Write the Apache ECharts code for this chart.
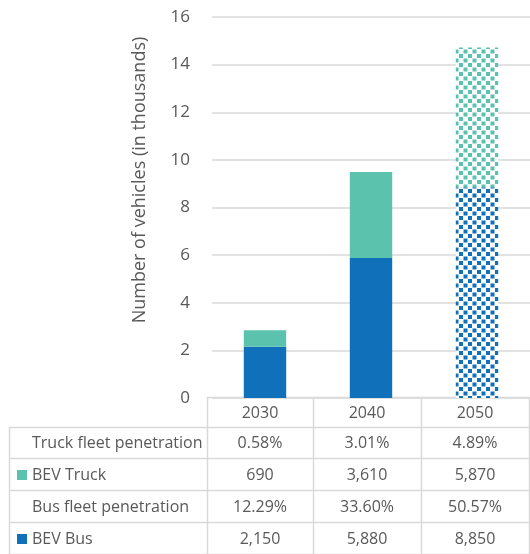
<!DOCTYPE html>
<html><head><meta charset="utf-8">
<script src="https://cdn.jsdelivr.net/npm/echarts@6/dist/echarts.min.js"></script>
<style>html,body{margin:0;padding:0;background:#fff}#c{width:530px;height:554px}</style>
</head><body><div id="c"></div><script>
// ---- data ----
const years = ['2030', '2040', '2050'];
const busValues = [2.15, 5.88, 8.85];      // thousands
const truckValues = [0.69, 3.61, 5.87];    // thousands
const truckPenetration = ['0.58%', '3.01%', '4.89%'];
const truckLabels = ['690', '3,610', '5,870'];
const busPenetration = ['12.29%', '33.60%', '50.57%'];
const busLabels = ['2,150', '5,880', '8,850'];
const projectedIndex = 2; // patterned bar
const yAxisTitle = 'Number of vehicles (in thousands)';

// ---- style ----
const busColor = '#1071BA';
const truckColor = '#5AC2AD';
const textColor = '#595959';
const lineColor = '#D9D9D9';
const FONT = 'Open Sans';

function makePattern(color) {
  const c = document.createElement('canvas');
  c.width = 9; c.height = 9;
  const ctx = c.getContext('2d');
  ctx.fillStyle = '#fff'; ctx.fillRect(0, 0, 9, 9);
  ctx.fillStyle = color;
  ctx.fillRect(0, 0, 4, 4);
  ctx.fillRect(4.5, 4.5, 4, 4);
  return { image: c, repeat: 'repeat' };
}

const chart = echarts.init(document.getElementById('c'), null, { renderer: 'canvas' });

const tableRows = [
  { label: 'Truck fleet penetration', values: truckPenetration },
  { label: 'BEV Truck', swatch: truckColor, values: truckLabels },
  { label: 'Bus fleet penetration', values: busPenetration },
  { label: 'BEV Bus', swatch: busColor, values: busLabels }
];

// table layout
const colX = [207, 313, 421, 529];
const tableLeft = 9;
const rowY = [397, 427, 458, 490, 522, 554];

const g = [];
function hline(x1, x2, y) { g.push({ type: 'line', silent: true, shape: { x1, y1: y + 0.5, x2, y2: y + 0.5 }, style: { stroke: lineColor, lineWidth: 1.5 } }); }
function vline(x, y1, y2) { g.push({ type: 'line', silent: true, shape: { x1: x + 0.5, y1, x2: x + 0.5, y2 }, style: { stroke: lineColor, lineWidth: 1.5 } }); }
hline(colX[0], colX[3], rowY[0]);
for (let r = 1; r < rowY.length; r++) hline(tableLeft, colX[3], rowY[r]);
vline(tableLeft, rowY[1], rowY[5]);
colX.forEach(x => vline(x, rowY[0], rowY[5]));
function txt(s, x, y, align) {
  g.push({ type: 'text', silent: true, x, y, style: { text: s, fill: textColor, font: '16px "' + FONT + '"', align: align || 'center', verticalAlign: 'middle' } });
}
years.forEach((yr, i) => txt(yr, (colX[i] + colX[i + 1]) / 2, (rowY[0] + rowY[1]) / 2 + 1));
tableRows.forEach((row, r) => {
  const cy = (rowY[r + 1] + rowY[r + 2]) / 2 + 1;
  if (row.swatch) g.push({ type: 'rect', silent: true, shape: { x: 17, y: cy - 5, width: 10, height: 10 }, style: { fill: row.swatch } });
  txt(row.label, 32, cy, 'left');
  row.values.forEach((v, i) => txt(v, (colX[i] + colX[i + 1]) / 2, cy));
});
g.push({ type: 'text', silent: true, x: 140, y: 180, rotation: Math.PI / 2,
  style: { text: yAxisTitle, fill: textColor, font: '18px "' + FONT + '"', align: 'center', verticalAlign: 'middle' } });

const option = {
  animation: false,
  backgroundColor: '#fff',
  grid: { left: 212, right: -4, top: 17, bottom: 156, containLabel: false },
  xAxis: {
    type: 'category', data: years,
    axisLine: { show: false }, axisTick: { show: false }, axisLabel: { show: false }
  },
  yAxis: {
    type: 'value', min: 0, max: 16, interval: 2,
    axisLine: { show: false }, axisTick: { show: false },
    axisLabel: { color: textColor, fontSize: 17, fontFamily: FONT, margin: 22 },
    splitLine: { lineStyle: { color: lineColor, width: 1.5 } }
  },
  series: [
    { name: 'BEV Bus', type: 'bar', stack: 'v', barWidth: '40%',
      data: busValues.map((v, i) => i === projectedIndex ? { value: v, itemStyle: { color: makePattern(busColor) } } : v),
      itemStyle: { color: busColor } },
    { name: 'BEV Truck', type: 'bar', stack: 'v', barWidth: '40%',
      data: truckValues.map((v, i) => i === projectedIndex ? { value: v, itemStyle: { color: makePattern(truckColor) } } : v),
      itemStyle: { color: truckColor } }
  ],
  graphic: g
};
chart.setOption(option);
</script></body></html>
